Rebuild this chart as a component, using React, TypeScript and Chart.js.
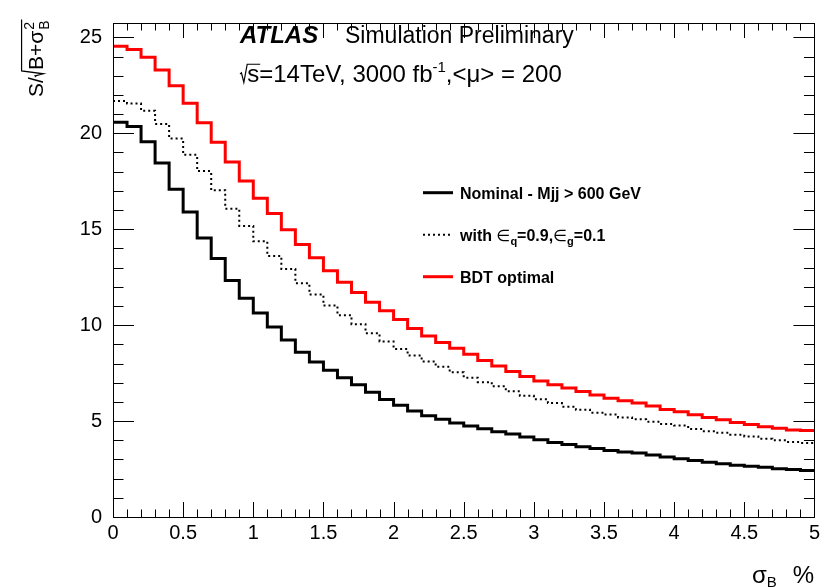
import React, { useEffect, useRef } from "react";
import { Chart, registerables } from "chart.js";

Chart.register(...registerables);

// Bin edges (sigma_B in %), 50 bins of width 0.1
const binEdges = [
  0.0, 0.1, 0.2, 0.3, 0.4, 0.5, 0.6, 0.7, 0.8, 0.9,
  1.0, 1.1, 1.2, 1.3, 1.4, 1.5, 1.6, 1.7, 1.8, 1.9,
  2.0, 2.1, 2.2, 2.3, 2.4, 2.5, 2.6, 2.7, 2.8, 2.9,
  3.0, 3.1, 3.2, 3.3, 3.4, 3.5, 3.6, 3.7, 3.8, 3.9,
  4.0, 4.1, 4.2, 4.3, 4.4, 4.5, 4.6, 4.7, 4.8, 4.9,
  5.0,
];

const nominal = [
  20.58, 20.36, 19.56, 18.45, 17.09, 15.9, 14.54, 13.47, 12.33, 11.4,
  10.63, 9.9, 9.22, 8.59, 8.08, 7.65, 7.26, 6.89, 6.5, 6.12,
  5.82, 5.53, 5.28, 5.09, 4.9, 4.74, 4.6, 4.45, 4.32, 4.17,
  4.03, 3.88, 3.78, 3.66, 3.57, 3.47, 3.39, 3.33, 3.23, 3.13,
  3.03, 2.94, 2.86, 2.78, 2.7, 2.64, 2.59, 2.52, 2.47, 2.43,
];

const withEff = [
  21.68, 21.55, 21.17, 20.49, 19.73, 18.88, 18.03, 17.03, 16.07, 15.17,
  14.37, 13.61, 12.93, 12.19, 11.6, 11.02, 10.52, 10.05, 9.58, 9.15,
  8.76, 8.42, 8.11, 7.83, 7.54, 7.26, 7.03, 6.81, 6.55, 6.32,
  6.14, 5.94, 5.75, 5.59, 5.44, 5.34, 5.19, 5.09, 4.97, 4.85,
  4.77, 4.59, 4.47, 4.39, 4.29, 4.2, 4.08, 4.0, 3.91, 3.86,
];

const bdtOptimal = [
  24.54, 24.37, 23.96, 23.3, 22.48, 21.57, 20.55, 19.53, 18.51, 17.52,
  16.62, 15.82, 14.97, 14.2, 13.52, 12.84, 12.24, 11.7, 11.19, 10.75,
  10.29, 9.83, 9.44, 9.1, 8.79, 8.48, 8.16, 7.87, 7.59, 7.33,
  7.09, 6.9, 6.72, 6.54, 6.36, 6.19, 6.06, 5.94, 5.79, 5.61,
  5.48, 5.33, 5.19, 5.07, 4.93, 4.82, 4.71, 4.63, 4.54, 4.51,
];

const xTicks = [0, 0.5, 1, 1.5, 2, 2.5, 3, 3.5, 4, 4.5, 5];
const yTicks = [0, 5, 10, 15, 20, 25];
const xMinorStep = 0.1;
const yMinorStep = 1;

const legendLabels = ["Nominal - Mjj > 600 GeV", "with", "BDT optimal"];

const FONT = '"Liberation Sans", Arial, Helvetica, sans-serif';

function toSteps(vals: number[]) {
  return binEdges.map((x, i) => ({ x, y: vals[Math.min(i, vals.length - 1)] }));
}

function drawRadical(ctx: CanvasRenderingContext2D, x: number, y: number, s: number, top: number, endX: number) {
  ctx.beginPath();
  ctx.moveTo(x, y - 0.33 * s);
  ctx.lineTo(x + 0.06 * s, y - 0.38 * s);
  ctx.lineTo(x + 0.16 * s, y + 0.02 * s);
  ctx.lineTo(x + 0.3 * s, y - top * s);
  ctx.lineTo(endX, y - top * s);
  ctx.stroke();
}

const rootPlugin = {
  id: "rootDeco",
  afterDraw(chart: any) {
    const { ctx, chartArea: a, scales } = chart;
    const xs = scales.x;
    const ys = scales.y;
    ctx.save();
    ctx.strokeStyle = "#000";
    ctx.lineWidth = 1;
    // frame
    ctx.strokeRect(Math.round(a.left) + 0.5, Math.round(a.top) + 0.5, Math.round(a.right - a.left), Math.round(a.bottom - a.top));
    // ticks
    ctx.beginPath();
    const nX = Math.round((xs.max - xs.min) / xMinorStep);
    for (let i = 0; i <= nX; i++) {
      const v = xs.min + i * xMinorStep;
      const px = Math.round(xs.getPixelForValue(v)) + 0.5;
      const len = i % 5 === 0 ? 15 : 7.5;
      ctx.moveTo(px, a.bottom);
      ctx.lineTo(px, a.bottom - len);
      ctx.moveTo(px, a.top);
      ctx.lineTo(px, a.top + len);
    }
    for (let v = 0; v <= ys.max; v += yMinorStep) {
      const py = Math.round(ys.getPixelForValue(v)) + 0.5;
      const len = v % 5 === 0 ? 21 : 10.5;
      ctx.moveTo(a.left, py);
      ctx.lineTo(a.left + len, py);
      ctx.moveTo(a.right, py);
      ctx.lineTo(a.right - len, py);
    }
    ctx.stroke();

    ctx.fillStyle = "#000";
    ctx.textBaseline = "alphabetic";
    ctx.textAlign = "left";

    // ATLAS label
    ctx.font = `italic bold 24px ${FONT}`;
    ctx.fillText("ATLAS", 240, 43);
    ctx.font = `23px ${FONT}`;
    ctx.fillText("Simulation Preliminary", 345, 43);

    // second line: sqrt(s)=14TeV, 3000 fb^-1,<mu> = 200
    {
      const s = 24;
      const base = 82;
      let x = 240;
      ctx.font = `${s}px ${FONT}`;
      const sw = ctx.measureText("s").width;
      ctx.lineWidth = 1.2;
      drawRadical(ctx, x, base, s, 0.74, x + 0.3 * s + sw + 1);
      x += 0.3 * s;
      ctx.fillText("s", x, base);
      x += sw;
      const t1 = "=14TeV, 3000 fb";
      ctx.fillText(t1, x, base);
      x += ctx.measureText(t1).width;
      ctx.font = `${Math.round(s * 0.62)}px ${FONT}`;
      ctx.fillText("-1", x, base - 0.42 * s);
      x += ctx.measureText("-1").width;
      ctx.font = `${s}px ${FONT}`;
      ctx.fillText(",<\u03BC> = 200", x, base);
    }

    // Legend
    const rows = [192.7, 234.7, 276.7];
    const ds = chart.data.datasets;
    for (let r = 0; r < 3; r++) {
      const d = ds[r];
      ctx.save();
      ctx.strokeStyle = d.borderColor;
      ctx.lineWidth = d.borderWidth;
      ctx.setLineDash(d.borderDash || []);
      ctx.beginPath();
      ctx.moveTo(423, rows[r]);
      ctx.lineTo(453, rows[r]);
      ctx.stroke();
      ctx.restore();
    }
    ctx.font = `bold 16px ${FONT}`;
    ctx.fillText(legendLabels[0], 460, rows[0] + 6);
    ctx.fillText(legendLabels[2], 460, rows[2] + 6);
    {
      const base = rows[1] + 6;
      let x = 460;
      const seg = (txt: string, font: string, dy: number) => {
        ctx.font = font;
        ctx.fillText(txt, x, base + dy);
        x += ctx.measureText(txt).width;
      };
      seg(legendLabels[1] + " ", `bold 16px ${FONT}`, 0);
      seg("\u2208", `16px "DejaVu Sans", ${FONT}`, 0);
      seg("q", `bold 11px ${FONT}`, 4);
      seg("=0.9,", `bold 16px ${FONT}`, 0);
      seg("\u2208", `16px "DejaVu Sans", ${FONT}`, 0);
      seg("g", `bold 11px ${FONT}`, 4);
      seg("=0.1", `bold 16px ${FONT}`, 0);
    }

    // X axis title: sigma_B  %
    ctx.font = `24px ${FONT}`;
    ctx.fillText("\u03C3", 752, 583);
    const sgw = ctx.measureText("\u03C3").width;
    ctx.font = `15px ${FONT}`;
    ctx.fillText("B", 752 + sgw, 587);
    ctx.font = `24px ${FONT}`;
    ctx.textAlign = "right";
    ctx.fillText("%", 814, 583);
    ctx.textAlign = "left";

    // Y axis title: S/sqrt(B+sigma_B^2)
    {
      const s = 21;
      ctx.save();
      ctx.translate(43, 97);
      ctx.rotate(-Math.PI / 2);
      ctx.font = `${s}px ${FONT}`;
      let x = 0;
      ctx.fillText("S/", x, 0);
      x += ctx.measureText("S/").width;
      const r0 = x;
      x += 0.34 * s;
      const main = "B+\u03C3";
      ctx.fillText(main, x, 0);
      x += ctx.measureText(main).width;
      ctx.font = `${Math.round(s * 0.65)}px ${FONT}`;
      ctx.fillText("2", x + 1, -0.45 * s);
      ctx.fillText("B", x + 1, 0.28 * s);
      const w2 = Math.max(ctx.measureText("2").width, ctx.measureText("B").width);
      ctx.lineWidth = 1.2;
      drawRadical(ctx, r0, 0, s, 1.02, x + 1 + w2 + 1);
      ctx.restore();
    }

    ctx.restore();
  },
};

export default function App() {
  const ref = useRef<HTMLCanvasElement | null>(null);
  useEffect(() => {
    if (!ref.current) return;
    const chart = new Chart(ref.current, {
      type: "line",
      data: {
        datasets: [
          {
            label: legendLabels[0],
            data: toSteps(nominal),
            borderColor: "#000000",
            borderWidth: 3,
            stepped: true,
            pointRadius: 0,
            fill: false,
          },
          {
            label: legendLabels[1],
            data: toSteps(withEff),
            borderColor: "#000000",
            borderWidth: 2,
            borderDash: [2, 3],
            stepped: true,
            pointRadius: 0,
            fill: false,
          },
          {
            label: legendLabels[2],
            data: toSteps(bdtOptimal),
            borderColor: "#ff0000",
            borderWidth: 3,
            stepped: true,
            pointRadius: 0,
            fill: false,
          },
        ],
      },
      options: {
        responsive: false,
        animation: false,
        devicePixelRatio: 1,
        layout: { padding: { left: 0, right: 7, top: 12.5, bottom: 0 } },
        plugins: {
          legend: { display: false },
          tooltip: { enabled: false },
          title: { display: false },
        },
        scales: {
          x: {
            type: "linear",
            min: 0,
            max: 5,
            afterBuildTicks: (scale: any) => {
              scale.ticks = xTicks.map((v) => ({ value: v }));
            },
            afterFit: (scale: any) => {
              scale.height = 70;
            },
            ticks: {
              autoSkip: false,
              maxRotation: 0,
              padding: 4,
              color: "#000",
              font: { family: FONT, size: 20 },
              callback: (v: any) => String(v),
            },
            grid: { display: false, drawTicks: false },
            border: { display: false },
          },
          y: {
            type: "linear",
            min: 0,
            max: 25.75,
            afterBuildTicks: (scale: any) => {
              scale.ticks = yTicks.map((v) => ({ value: v }));
            },
            afterFit: (scale: any) => {
              scale.width = 113;
            },
            ticks: {
              autoSkip: false,
              padding: 11,
              color: "#000",
              font: { family: FONT, size: 20 },
              callback: (v: any) => String(v),
            },
            grid: { display: false, drawTicks: false },
            border: { display: false },
          },
        },
      },
      plugins: [rootPlugin],
    } as any);
    return () => chart.destroy();
  }, []);
  return (
    <div style={{ position: "absolute", left: 0, top: 0, width: 824, height: 587, background: "#fff" }}>
      <canvas ref={ref} width={824} height={587} style={{ display: "block" }} />
    </div>
  );
}
